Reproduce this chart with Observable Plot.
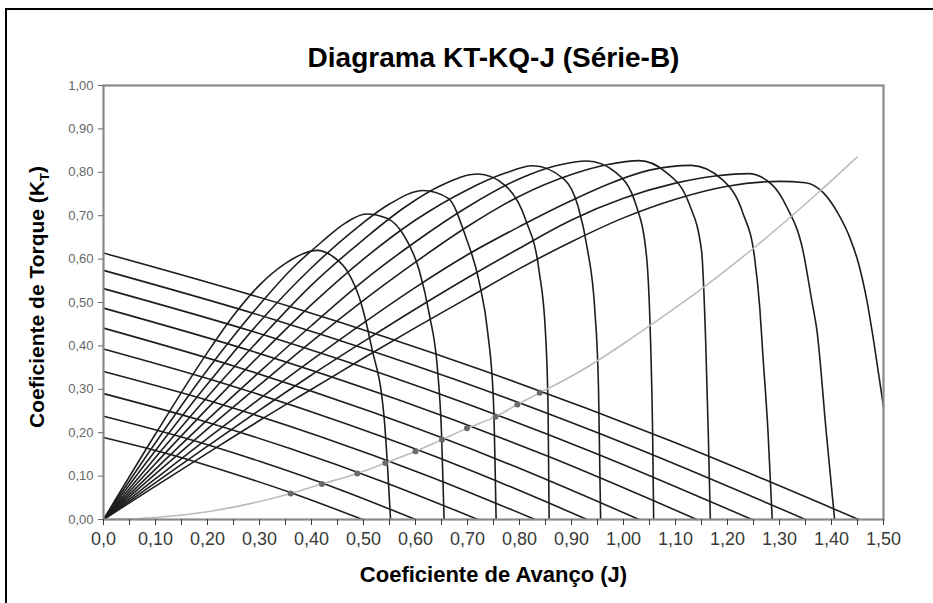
<!DOCTYPE html>
<html>
<head>
<meta charset="utf-8">
<script src="https://cdn.jsdelivr.net/npm/d3@7"></script>
<script src="https://cdn.jsdelivr.net/npm/@observablehq/plot@0.6"></script>
<style>
  html, body { margin: 0; padding: 0; background: #fff; overflow: hidden; }
  #wrap { position: relative; width: 933px; height: 603px; overflow: hidden; }
  #border { position: absolute; left: 5px; top: 8px; width: 1100px; height: 800px; border: 2px solid #000; box-sizing: border-box; }
  #chart { position: absolute; left: 0; top: 0; }
</style>
</head>
<body>
<div id="wrap"><div id="border"></div><div id="chart"></div></div>
<script>
// ---- axis ticks ----
const xTicks = [0,0.05,0.1,0.15,0.2,0.25,0.3,0.35,0.4,0.45,0.5,0.55,0.6,0.65,0.7,0.75,0.8,0.85,0.9,0.95,1.0,1.05,1.1,1.15,1.2,1.25,1.3,1.35,1.4,1.45,1.5];
const xTickLabels = ["0,0","","0,10","","0,20","","0,30","","0,40","","0,50","","0,60","","0,70","","0,80","","0,90","","1,00","","1,10","","1,20","","1,30","","1,40","","1,50"];
const yTicks = [0,0.1,0.2,0.3,0.4,0.5,0.6,0.7,0.8,0.9,1.0];
const yTickLabels = ["0,00","0,10","0,20","0,30","0,40","0,50","0,60","0,70","0,80","0,90","1,00"];

// ---- efficiency curves (J, value) ----
const eta1 = [[0,0],[0.1,0.197],[0.2,0.385],[0.25,0.47],[0.3,0.54],[0.35,0.59],[0.385,0.613],[0.41,0.62],[0.44,0.607],[0.47,0.57],[0.495,0.50],[0.515,0.40],[0.54,0.23],[0.552,0]];
const eta2 = [[0,0],[0.1,0.177],[0.2,0.345],[0.3,0.495],[0.36,0.575],[0.42,0.64],[0.465,0.683],[0.505,0.704],[0.545,0.694],[0.58,0.65],[0.607,0.575],[0.627,0.47],[0.642,0.35],[0.65,0.2],[0.655,0]];
const eta3 = [[0,0],[0.1,0.159],[0.2,0.312],[0.3,0.455],[0.4,0.58],[0.48,0.665],[0.55,0.727],[0.615,0.758],[0.663,0.74],[0.697,0.65],[0.722,0.55],[0.739,0.43],[0.75,0.27],[0.755,0]];
const eta4 = [[0,0],[0.1,0.143],[0.2,0.283],[0.3,0.415],[0.4,0.54],[0.5,0.645],[0.58,0.72],[0.65,0.77],[0.72,0.796],[0.772,0.77],[0.812,0.69],[0.838,0.57],[0.85,0.43],[0.855,0.25],[0.857,0]];
const eta5 = [[0,0],[0.1,0.129],[0.2,0.256],[0.3,0.378],[0.4,0.495],[0.5,0.60],[0.6,0.69],[0.7,0.76],[0.77,0.797],[0.825,0.815],[0.885,0.785],[0.913,0.72],[0.93,0.627],[0.945,0.48],[0.952,0.3],[0.956,0]];
const eta6 = [[0,0],[0.1,0.116],[0.2,0.23],[0.3,0.34],[0.4,0.447],[0.5,0.55],[0.6,0.64],[0.7,0.72],[0.8,0.785],[0.87,0.815],[0.93,0.826],[0.985,0.8],[1.024,0.725],[1.044,0.61],[1.052,0.412],[1.056,0.2],[1.058,0]];
const eta7 = [[0,0],[0.1,0.105],[0.2,0.209],[0.3,0.31],[0.4,0.41],[0.5,0.505],[0.6,0.593],[0.7,0.675],[0.8,0.745],[0.9,0.795],[0.97,0.818],[1.03,0.827],[1.082,0.8],[1.127,0.725],[1.15,0.62],[1.158,0.412],[1.163,0.2],[1.167,0]];
const eta8 = [[0,0],[0.1,0.094],[0.2,0.187],[0.3,0.278],[0.4,0.367],[0.5,0.453],[0.6,0.535],[0.7,0.61],[0.8,0.675],[0.9,0.735],[0.975,0.775],[1.05,0.805],[1.13,0.816],[1.19,0.783],[1.229,0.708],[1.252,0.604],[1.262,0.489],[1.268,0.38],[1.278,0.2],[1.286,0]];
const eta9 = [[0,0],[0.1,0.085],[0.2,0.169],[0.3,0.252],[0.4,0.333],[0.5,0.41],[0.6,0.485],[0.7,0.557],[0.8,0.625],[0.9,0.69],[1.0,0.74],[1.1,0.775],[1.18,0.792],[1.24,0.797],[1.285,0.772],[1.314,0.72],[1.345,0.62],[1.362,0.505],[1.372,0.435],[1.39,0.2],[1.406,0]];
const eta10 = [[0,0],[0.1,0.077],[0.2,0.153],[0.3,0.228],[0.4,0.30],[0.5,0.372],[0.6,0.442],[0.7,0.51],[0.8,0.578],[0.9,0.64],[1.0,0.695],[1.1,0.738],[1.2,0.768],[1.3,0.779],[1.35,0.776],[1.385,0.752],[1.415,0.70],[1.435,0.65],[1.452,0.59],[1.468,0.505],[1.481,0.412],[1.5,0.26]];

// ---- thrust coefficient lines (J, KT) ----
const kt1 = [[0,0.614],[0.363,0.489],[0.726,0.345],[1.089,0.182],[1.452,0]];
const kt2 = [[0,0.574],[0.338,0.457],[0.675,0.323],[1.013,0.170],[1.35,0]];
const kt3 = [[0,0.532],[0.312,0.424],[0.624,0.299],[0.935,0.158],[1.247,0]];
const kt4 = [[0,0.487],[0.285,0.388],[0.571,0.274],[0.856,0.145],[1.141,0]];
const kt5 = [[0,0.441],[0.258,0.351],[0.515,0.248],[0.773,0.131],[1.03,0]];
const kt6 = [[0,0.393],[0.233,0.313],[0.465,0.221],[0.698,0.117],[0.93,0]];
const kt7 = [[0,0.341],[0.208,0.272],[0.415,0.192],[0.623,0.101],[0.83,0]];
const kt8 = [[0,0.290],[0.18,0.231],[0.36,0.163],[0.54,0.086],[0.72,0]];
const kt9 = [[0,0.238],[0.15,0.190],[0.30,0.134],[0.45,0.071],[0.60,0]];
const kt10 = [[0,0.189],[0.125,0.151],[0.249,0.106],[0.374,0.056],[0.498,0]];

// ---- load curve (gray) and operating points ----
const loadCurve = [[0,0],[0.1,0.0045],[0.2,0.018],[0.28,0.036],[0.36,0.06],[0.42,0.082],[0.488,0.106],[0.542,0.13],[0.60,0.157],[0.651,0.184],[0.699,0.21],[0.754,0.237],[0.796,0.265],[0.839,0.292],[0.9,0.33],[1.0,0.405],[1.052,0.448],[1.154,0.535],[1.25,0.625],[1.379,0.758],[1.449,0.835]];
const opJ = [0.36,0.42,0.488,0.542,0.60,0.651,0.699,0.754,0.796,0.839];
const opKT = [0.06,0.082,0.106,0.13,0.157,0.184,0.21,0.237,0.265,0.292];

const etaCurves = [eta1,eta2,eta3,eta4,eta5,eta6,eta7,eta8,eta9,eta10];
const ktCurves = [kt1,kt2,kt3,kt4,kt5,kt6,kt7,kt8,kt9,kt10];

const xLab = new Map(xTicks.map((t,i)=>[Math.round(t*100), xTickLabels[i]]));
const yLab = new Map(yTicks.map((t,i)=>[Math.round(t*100), yTickLabels[i]]));

const lineOpts = {x: d=>d[0], y: d=>d[1], stroke: "#1e1e1e", strokeWidth: 1.6, curve: "monotone-x"};

const chart = Plot.plot({
  width: 933, height: 603,
  marginLeft: 103, marginRight: 50, marginTop: 85, marginBottom: 84,
  x: {domain: [0, 1.5]},
  y: {domain: [0, 1]},
  style: {fontFamily: "'Liberation Sans', Arial, sans-serif", background: "transparent"},
  marks: [
    Plot.frame({fill: "#fff"}),
    ...ktCurves.map(c => Plot.line(c, lineOpts)),
    ...etaCurves.map(c => Plot.line(c, lineOpts)),
    Plot.line(loadCurve, {x: d=>d[0], y: d=>d[1], stroke: "#bcbcbc", strokeWidth: 1.6, curve: "monotone-x"}),
    Plot.dot(opJ.map((j,i)=>[j, opKT[i]]), {x: d=>d[0], y: d=>d[1], r: 3, fill: "#6a6a6a", stroke: "none"}),
    Plot.frame({stroke: "#8a8a8a", strokeWidth: 2.2}),
    Plot.axisX({ticks: xTicks, tickFormat: d => xLab.get(Math.round(d*100)), tickSize: 6, tickPadding: 7, fontSize: 18, color: "#3a3a3a", label: null}),
    Plot.axisY({ticks: yTicks, tickFormat: d => yLab.get(Math.round(d*100)), tickSize: 5, tickPadding: 5, fontSize: 13, color: "#666", label: null}),
    Plot.text(["Diagrama KT-KQ-J (Série-B)"], {frameAnchor: "top", dy: -38, fontSize: 28, fontWeight: "bold", fill: "#000"}),
    Plot.text(["Coeficiente de Avanço (J)"], {frameAnchor: "bottom", dy: 62, fontSize: 22, fontWeight: "bold", fill: "#000"})
  ]
});
document.getElementById("chart").appendChild(chart);

// y-axis title with subscript
const svg = d3.select(chart);
const yt = svg.append("text")
  .attr("transform", "translate(38,297) rotate(-90)")
  .attr("text-anchor", "middle")
  .attr("dominant-baseline", "middle")
  .attr("font-family", "'Liberation Sans', Arial, sans-serif")
  .attr("font-size", 21)
  .attr("font-weight", "bold")
  .attr("fill", "#000");
yt.append("tspan").text("Coeficiente de Torque (K");
yt.append("tspan").attr("baseline-shift", "sub").attr("font-size", 13).text("T");
yt.append("tspan").text(")");
</script>
</body>
</html>
